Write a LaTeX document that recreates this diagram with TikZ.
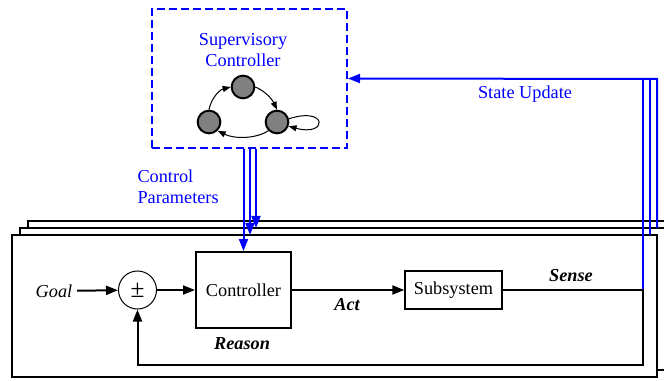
\documentclass[tikz,border=0pt]{standalone}
\usepackage{fontspec}
\setmainfont{Liberation Serif}
\usetikzlibrary{arrows.meta}
\tikzset{every picture/.style={line width=0.75pt}}
\tikzset{
  arr/.style={-{Triangle[length=9pt,width=6.75pt]}},
  smallarr/.style={-{Triangle[length=6pt,width=4.5pt]}},
  state/.style={circle, draw, line width=1.5pt, fill={rgb,255:red,128;green,128;blue,128}, minimum size=17pt, inner sep=0pt},
  lbl/.style={font=\fontsize{13.7}{15.75}\selectfont},
  act/.style={font=\fontsize{13.7}{15.75}\selectfont\bfseries\itshape}
}

\begin{document}
\begin{tikzpicture}[x=0.75pt,y=0.75pt,yscale=-1,xscale=1]
\useasboundingbox (0,0) rectangle (664,381);
% stacked subsystems
\draw [line width=1.5pt, fill=white] (28,221) rectangle (673,363) ;
\draw [line width=1.5pt, fill=white] (20,228) rectangle (665,370) ;
\draw [line width=1.5pt, fill=white] (12,235) rectangle (657,377) ;
% supervisory controller
\draw (249.5,78.5) node [draw=blue, line width=1.5pt, dash pattern=on 6pt off 3pt, minimum width=146.25pt, minimum height=104.25pt] (superv) {} ;
\draw (243,50.5) node [lbl, text=blue, align=center, inner sep=0.75pt] (svtxt) {Supervisory\\Controller} ;
\draw (243,87) node [state] (s1) {} ;
\draw (209,122) node [state] (s2) {} ;
\draw (277,122) node [state] (s3) {} ;
\draw [smallarr] (s2.north) .. controls (211,99) and (219,90) .. (s1.west) ;
\draw [smallarr] (s1.east) .. controls (265,91) and (272,99) .. (s3.north) ;
\draw [smallarr] (s3.south west) .. controls (256,139) and (234,139) .. (s2.south east) ;
\draw [smallarr] (s3.15) .. controls (328,106) and (328,137) .. (s3.-20) ;
% inner loop
\draw (54,291) node [lbl, font=\fontsize{13.7}{15.75}\selectfont\itshape] (goal) {Goal} ;
\draw (137.5,290) node [circle, draw, minimum size=28.5pt, inner sep=0pt, font=\fontsize{19}{19}\selectfont] (sum) {±} ;
\draw (243.5,290) node [draw, line width=1.5pt, minimum width=71.25pt, minimum height=57pt, lbl] (ctrl) {Controller} ;
\draw (453.5,290) node [draw, line width=1pt, minimum width=72.75pt, minimum height=28.5pt, lbl] (sub) {Subsystem} ;
\draw (242,344) node [act] (reason) {Reason} ;
\draw (347,305) node [act] (actlbl) {Act} ;
\draw (571,276) node [act] (sense) {Sense} ;
\coordinate (sn) at (643,290) ;
\coordinate (fb) at (643,365) ;
% blue links
\coordinate (midtop) at (250,235) ;
\coordinate (backtop) at (256,228) ;
\coordinate (midup) at (650,235) ;
\coordinate (backup) at (657,228) ;
\coordinate (su) at (657,79) ;
\draw [blue, line width=1.5pt, arr] (superv.south -| backtop) -- (backtop) ;
\draw [blue, line width=1.5pt, arr] (superv.south -| midtop) -- (midtop) ;
\draw [blue, line width=1.5pt, arr] (superv.south -| ctrl.north) -- (ctrl.north) ;
\draw [blue, line width=1.5pt] (sn) |- (su) ;
\draw [blue, line width=1.5pt] (midup) |- (su) ;
\draw [blue, line width=1.5pt, arr] (backup) -- (su) -- (superv.east) ;
\draw (136,186.5) node [lbl, text=blue, align=left, anchor=west, inner sep=0.75pt] (cplbl) {Control\\Parameters} ;
\draw (525,94) node [lbl, text=blue] (sulbl) {State Update} ;
% black links
\draw [line width=1.5pt, arr] (goal) -- (sum) ;
\draw [line width=1.5pt, arr] (sum) -- (ctrl) ;
\draw [line width=1.5pt, arr] (ctrl) -- (sub) ;
\draw [line width=1.5pt, arr] (sub) -- (sn) -- (fb) -| (sum.south) ;
\end{tikzpicture}
\end{document}
